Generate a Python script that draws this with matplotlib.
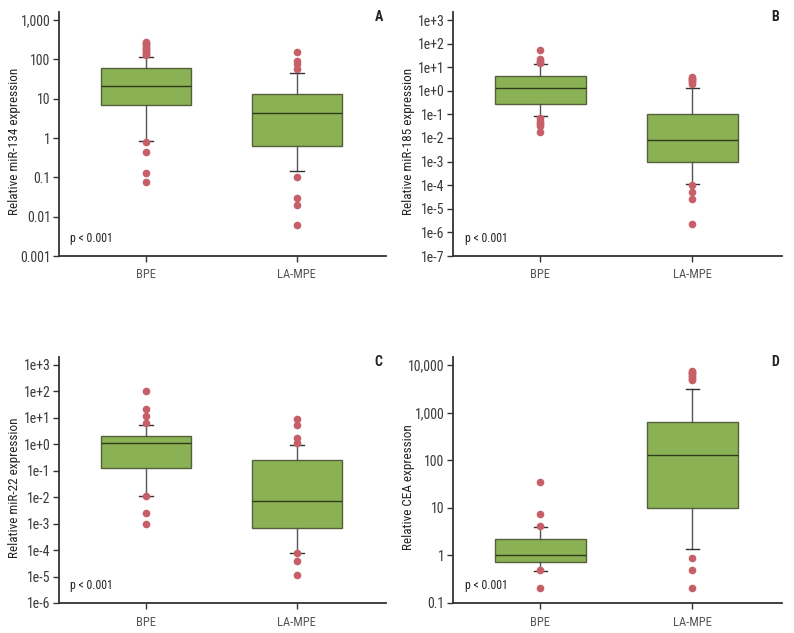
import numpy as np
import matplotlib
matplotlib.use('Agg')
import matplotlib.pyplot as plt
from matplotlib.ticker import FixedLocator, FixedFormatter

plt.rcParams['font.family'] = ['Roboto Condensed', 'Archivo Narrow',
                               'PT Sans Narrow', 'Liberation Sans Narrow',
                               'DejaVu Sans']

groups = ['BPE', 'LA-MPE']

# box stats: (whislo, q1, med, q3, whishi)
a_stats = [(0.85, 7.0, 20.5, 61.0, 117.0), (0.145, 0.61, 4.2, 13.4, 44.0)]
a_fliers = [[128, 138, 148, 158, 170, 182, 195, 210, 225, 240, 255, 270,
             0.8, 0.43, 0.13, 0.075],
            [150, 90, 75, 58, 0.1, 0.03, 0.02, 0.006]]

b_stats = [(0.085, 0.27, 1.28, 4.1, 13.7), (1.16e-4, 9.3e-4, 8e-3, 0.1, 1.28)]
b_fliers = [[54, 22, 19, 17, 15, 0.07, 0.055, 0.045, 0.038, 0.033, 0.018],
            [4.0, 3.6, 3.2, 2.9, 2.6, 2.3, 2.0, 1.0e-4, 5.1e-5, 2.5e-5, 2.2e-6]]

c_stats = [(0.011, 0.13, 1.08, 2.1, 5.6), (7.8e-5, 6.9e-4, 7.4e-3, 0.26, 0.93)]
c_fliers = [[100, 22.5, 11.8, 6.4, 0.011, 0.0026, 0.00095],
            [9.1, 5.6, 1.7, 1.08, 7.5e-5, 4e-5, 1.1e-5]]

d_stats = [(0.48, 0.71, 1.01, 2.24, 4.0), (1.38, 10.0, 126.0, 640.0, 3170.0)]
d_fliers = [[34.7, 7.3, 4.1, 0.5, 0.21],
            [7600, 7200, 6800, 6400, 6000, 5600, 5200, 4900, 0.88, 0.5, 0.21]]

a_ticks = [1e-3, 1e-2, 1e-1, 1, 10, 100, 1000]
a_labels = ['0.001', '0.01', '0.1', '1', '10', '100', '1,000']
b_ticks = [10.0 ** k for k in range(-7, 4)]
b_labels = ['1e-7', '1e-6', '1e-5', '1e-4', '1e-3', '1e-2', '1e-1',
            '1e+0', '1e+1', '1e+2', '1e+3']
c_ticks = [10.0 ** k for k in range(-6, 4)]
c_labels = ['1e-6', '1e-5', '1e-4', '1e-3', '1e-2', '1e-1',
            '1e+0', '1e+1', '1e+2', '1e+3']
d_ticks = [0.1, 1, 10, 100, 1000, 10000]
d_labels = ['0.1', '1', '10', '100', '1,000', '10,000']

box_face = '#8bb155'
box_edge = '#55603d'
flier_col = '#c75f69'
axis_col = '#333333'
W, H = 794.0, 633.0


def panel(rect, stats, fliers, ticks, labels, ylabel, letter):
    x0, y0, x1, y1 = rect
    ax = fig.add_axes([x0 / W, 1 - y1 / H, (x1 - x0) / W, (y1 - y0) / H])
    bx = []
    for (lo, q1, med, q3, hi), fl in zip(stats, fliers):
        bx.append({'whislo': lo, 'q1': q1, 'med': med, 'q3': q3,
                   'whishi': hi, 'fliers': fl})
    ax.bxp(bx, positions=[0, 1], widths=0.6, patch_artist=True,
           capwidths=0.09,
           boxprops=dict(facecolor=box_face, edgecolor=box_edge, linewidth=1.0),
           medianprops=dict(color='#2e3a1c', linewidth=1.0),
           whiskerprops=dict(color='#555555', linewidth=1.0),
           capprops=dict(color='#333333', linewidth=1.0),
           flierprops=dict(marker='o', markerfacecolor=flier_col,
                           markeredgecolor='none', markersize=5.5))
    ax.set_yscale('log')
    lo_lim = ticks[0]
    hi_lim = ticks[-1] * 10 ** (8.0 / ((y1 - y0 - 8) / (len(ticks) - 1)))
    ax.set_ylim(lo_lim, hi_lim)
    ax.set_xlim(-0.576, 1.59)
    ax.yaxis.set_major_locator(FixedLocator(ticks))
    ax.yaxis.set_major_formatter(FixedFormatter(labels))
    ax.yaxis.set_minor_locator(FixedLocator([]))
    ax.set_xticks([0, 1])
    ax.set_xticklabels(groups)
    for s in ['top', 'right']:
        ax.spines[s].set_visible(False)
    for s in ['left', 'bottom']:
        ax.spines[s].set_color(axis_col)
        ax.spines[s].set_linewidth(1.3)
    ax.tick_params(axis='y', labelsize=10, length=4, width=1.0,
                   color=axis_col, labelcolor='#3a3a3a', pad=2)
    ax.tick_params(axis='x', labelsize=9, length=4, width=1.0,
                   color=axis_col, labelcolor='#555555', pad=5)
    ax.set_ylabel(ylabel, fontsize=9.5, color='#222222')
    ax.yaxis.set_label_coords(-0.117, 0.47)
    ax.text(0.035, 0.07, 'p < 0.001', transform=ax.transAxes, fontsize=8.5,
            color='#222222', va='center', ha='left')
    ax.text(0.99, 0.98, letter, transform=ax.transAxes, fontsize=10,
            fontweight='bold', ha='right', va='center', color='#222222')
    return ax


fig = plt.figure(figsize=(7.94, 6.33), dpi=100)
panel((59, 12, 386, 256), a_stats, a_fliers, a_ticks, a_labels,
      'Relative miR-134 expression', 'A')
panel((453, 12, 782, 256), b_stats, b_fliers, b_ticks, b_labels,
      'Relative miR-185 expression', 'B')
panel((59, 357, 386, 603), c_stats, c_fliers, c_ticks, c_labels,
      'Relative miR-22 expression', 'C')
panel((453, 357, 782, 603), d_stats, d_fliers, d_ticks, d_labels,
      'Relative CEA expression', 'D')

fig.savefig('out.png', dpi=100)
